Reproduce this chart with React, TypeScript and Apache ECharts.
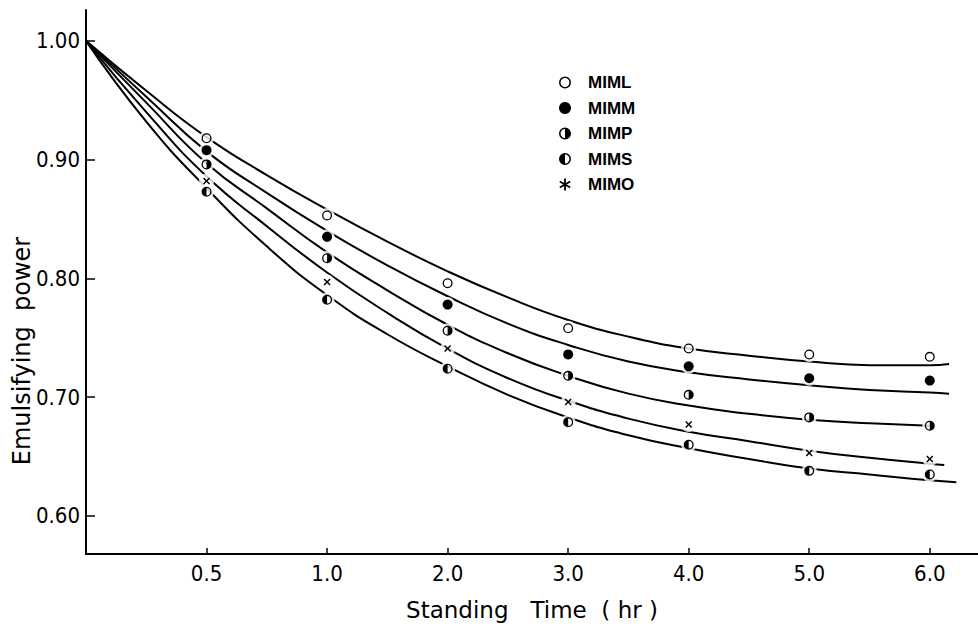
import React, { useEffect, useRef } from "react";
import * as echarts from "echarts";

// x positions are equally spaced slots: 0 = origin, 1..7 = the standing times
const timeLabels = ["0.5", "1.0", "2.0", "3.0", "4.0", "5.0", "6.0"];
const timeIndex = [1, 2, 3, 4, 5, 6, 7];
const yTickValues = [0.6, 0.7, 0.8, 0.9, 1.0];

// measured points (at timeIndex)
const mimlPts = [0.918, 0.853, 0.796, 0.758, 0.741, 0.736, 0.734];
const mimmPts = [0.908, 0.835, 0.778, 0.736, 0.726, 0.716, 0.714];
const mimpPts = [0.896, 0.817, 0.756, 0.718, 0.702, 0.683, 0.676];
const mimoPts = [0.882, 0.797, 0.741, 0.696, 0.677, 0.653, 0.648];
const mimsPts = [0.873, 0.782, 0.724, 0.679, 0.66, 0.638, 0.635];

// fitted curves, read at these slot positions
const curveX = [0, 0.5, 1, 1.5, 2, 2.5, 3, 3.5, 4, 4.5, 5, 5.5, 6, 6.5, 7];
const mimlFit = [1.0, 0.958, 0.919, 0.887, 0.858, 0.831, 0.806, 0.784, 0.765, 0.751, 0.741, 0.735, 0.73, 0.727, 0.727];
const mimmFit = [1.0, 0.953, 0.907, 0.872, 0.84, 0.811, 0.785, 0.762, 0.744, 0.73, 0.721, 0.715, 0.71, 0.706, 0.704];
const mimpFit = [1.0, 0.948, 0.897, 0.859, 0.822, 0.79, 0.761, 0.737, 0.718, 0.703, 0.693, 0.686, 0.681, 0.678, 0.676];
const mimoFit = [1.0, 0.94, 0.886, 0.844, 0.805, 0.771, 0.741, 0.716, 0.697, 0.682, 0.671, 0.663, 0.655, 0.649, 0.644];
const mimsFit = [1.0, 0.932, 0.876, 0.827, 0.786, 0.753, 0.726, 0.702, 0.683, 0.668, 0.657, 0.648, 0.64, 0.635, 0.63];
// where each fitted curve stops on the right
const mimlEnd = [7.16, 0.728];
const mimmEnd = [7.16, 0.703];
const mimpEnd = [7.0, 0.676];
const mimoEnd = [7.12, 0.643];
const mimsEnd = [7.22, 0.6285];

const seriesNames = ["MIML", "MIMM", "MIMP", "MIMS", "MIMO"];

const ring =
  "M10 0 A10 10 0 1 1 10 20 A10 10 0 1 1 10 0 Z M10 2.6 A7.4 7.4 0 1 0 10 17.4 A7.4 7.4 0 1 0 10 2.6 Z";
const openSym = "path://" + ring;
const rightHalfSym = "path://" + ring + " M10 2.6 A7.4 7.4 0 0 1 10 17.4 Z";
const leftHalfSym = "path://" + ring + " M10 2.6 A7.4 7.4 0 0 0 10 17.4 Z";
const crossSym =
  "path://M0 3 L3 0 L10 7 L17 0 L20 3 L13 10 L20 17 L17 20 L10 13 L3 20 L0 17 L7 10 Z";
const starSym =
  "path://M8.5 0 L11.5 0 L11.5 20 L8.5 20 Z M0.59 6.3 L2.09 3.7 L19.41 13.7 L17.91 16.3 Z M17.91 3.7 L19.41 6.3 L2.09 16.3 L0.59 13.7 Z";

export default function App() {
  const ref = useRef<HTMLDivElement>(null);

  useEffect(() => {
    if (!ref.current) return;
    const chart = echarts.init(ref.current, undefined, { renderer: "svg" });

    const pts = [mimlPts, mimmPts, mimpPts, mimsPts, mimoPts];
    const fits = [mimlFit, mimmFit, mimpFit, mimsFit, mimoFit];
    const ends = [mimlEnd, mimmEnd, mimpEnd, mimsEnd, mimoEnd];
    const syms = [openSym, "circle", rightHalfSym, leftHalfSym, crossSym];
    const sizes = [10, 10, 10, 10, 7];

    const lineSeries = seriesNames.map((n, k) => ({
      name: n + " fit",
      type: "line",
      data: [...curveX.map((x, i) => [x, fits[k][i]]), ends[k]],
      smooth: 0.5,
      showSymbol: false,
      symbol: "none",
      silent: true,
      z: 2,
      lineStyle: { color: "#000", width: 2 },
    }));
    const haloSeries = seriesNames.map((n, k) => ({
      name: n + " halo",
      type: "scatter",
      data: timeIndex.map((x, i) => [x, pts[k][i]]),
      symbol: "circle",
      symbolSize: 15,
      silent: true,
      z: 3,
      itemStyle: { color: "#fff" },
    }));
    const markSeries = seriesNames.map((n, k) => ({
      name: n,
      type: "scatter",
      data: timeIndex.map((x, i) => [x, pts[k][i]]),
      symbol: syms[k],
      symbolSize: sizes[k],
      z: 4,
      itemStyle: { color: "#000", opacity: 1 },
    }));

    const axisFont = "'Liberation Sans Narrow', 'DejaVu Sans Condensed', 'Roboto Condensed', sans-serif";

    chart.setOption({
      animation: false,
      backgroundColor: "#fff",
      grid: { left: 86, right: 0, top: 10, bottom: 69, containLabel: false },
      xAxis: {
        type: "value",
        min: 0,
        max: 7.4,
        interval: 1,
        name: "Standing   Time  ( hr )",
        nameLocation: "middle",
        nameGap: 44,
        nameTextStyle: { fontSize: 23, fontFamily: "'DejaVu Sans', sans-serif", color: "#000" },
        axisLine: { show: true, onZero: false, lineStyle: { color: "#000", width: 2 } },
        axisTick: { show: true, inside: true, length: 6, lineStyle: { color: "#000", width: 1.5 }, customValues: timeIndex },
        axisLabel: {
          show: true,
          margin: 8,
          fontSize: 22,
          fontFamily: axisFont,
          color: "#000",
          customValues: timeIndex,
          formatter: (v: number) => {
            const i = Math.round(v) - 1;
            return Math.abs(v - Math.round(v)) < 1e-6 && i >= 0 && i < timeLabels.length ? timeLabels[i] : "";
          },
        },
        splitLine: { show: false },
      },
      yAxis: {
        type: "value",
        min: 0.568,
        max: 1.026,
        axisLine: { show: true, onZero: false, lineStyle: { color: "#000", width: 2 } },
        axisTick: { show: true, inside: true, length: 9, lineStyle: { color: "#000", width: 1.5 }, customValues: yTickValues },
        axisLabel: {
          show: true,
          margin: 6,
          fontSize: 22,
          fontFamily: axisFont,
          color: "#000",
          customValues: yTickValues,
          formatter: (v: number) => v.toFixed(2),
        },
        splitLine: { show: false },
      },
      legend: {
        orient: "vertical",
        left: 554,
        top: 69,
        itemWidth: 12,
        itemHeight: 12,
        itemGap: 8.5,
        selectedMode: false,
        data: [
          { name: "MIML", icon: openSym },
          { name: "MIMM", icon: "circle" },
          { name: "MIMP", icon: rightHalfSym },
          { name: "MIMS", icon: leftHalfSym },
          { name: "MIMO", icon: starSym },
        ],
        textStyle: {
          fontSize: 17,
          lineHeight: 17,
          fontWeight: "bold",
          color: "#000",
          fontFamily: "'Liberation Sans', Arial, sans-serif",
          padding: [0, 0, 0, 12],
        },
      },
      graphic: [
        {
          type: "text",
          x: 22,
          y: 351,
          rotation: Math.PI / 2,
          style: {
            text: "Emulsifying  power",
            fontSize: 24,
            fontFamily: "'DejaVu Sans', sans-serif",
            fill: "#000",
            align: "center",
            verticalAlign: "middle",
          },
        },
      ],
      series: [...lineSeries, ...haloSeries, ...markSeries],
    });

    return () => chart.dispose();
  }, []);

  return (
    <div
      ref={ref}
      style={{ position: "fixed", left: 0, top: 0, width: 978, height: 626, background: "#fff" }}
    />
  );
}
